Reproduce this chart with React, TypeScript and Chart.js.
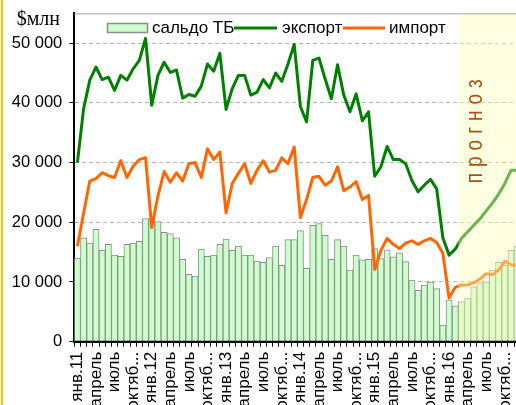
import React, { useEffect, useRef } from 'react';
import { Chart, registerables } from 'chart.js';

Chart.register(...registerables);

const years = ['2011', '2012', '2013', '2014', '2015', '2016'];
const months = ['01', '02', '03', '04', '05', '06', '07', '08', '09', '10', '11', '12'];
const categories = years.flatMap((y) => months.map((m) => `${y}-${m}`));

const tickLabels = [
  'янв.11', 'апрель', 'июль', 'октяб...',
  'янв.12', 'апрель', 'июль', 'октяб...',
  'янв.13', 'апрель', 'июль', 'октяб...',
  'янв.14', 'апрель', 'июль', 'октяб...',
  'янв.15', 'апрель', 'июль', 'октяб...',
  'янв.16', 'апрель', 'июль', 'октяб...',
];

const yTickValues = [0, 10000, 20000, 30000, 40000, 50000];

const balance = [
  14000, 17400, 16500, 18800, 15300, 16300, 14500, 14300, 16300, 16500,
  16800, 20600, 20500, 20100, 18300, 18100, 17400, 13800, 11300, 11000,
  15500, 14300, 14500, 16300, 17200, 15300, 16000, 14500, 14500, 13500,
  13300, 14100, 16000, 12800, 17100, 17100, 18600, 12300, 19500, 19800,
  17800, 13800, 17100, 16000, 12000, 14500, 13700, 13800, 15600, 13900,
  15400, 14200, 14900, 13400, 10300, 8600, 9500, 10000, 8900, 2800,
  7000, 6000, 6700, 7300, 9200, 9900, 10000, 12000, 13300, 12800,
  15300, 16000,
];

const exportValues = [
  30000, 39000, 43800, 46000, 43900, 44300, 42100, 44600, 43800, 45700,
  47100, 50800, 39600, 44600, 46800, 45100, 45500, 40800, 41400, 41100,
  42800, 46500, 45300, 48300, 38900, 42400, 44600, 44600, 41300, 41800,
  43900, 42500, 45000, 43600, 46500, 49800, 39400, 36800, 47100, 47500,
  44000, 40700, 46400, 41300, 38500, 41500, 37000, 38500, 27700, 29300,
  32700, 30500, 30500, 29800, 27000, 25100, 26200, 27200, 25600, 17400,
  14500, 15500, 17300, 18400, 19500, 20600, 21900, 23200, 24700, 26500,
  28700, 28700,
];

const importValues = [
  16000, 21500, 26900, 27300, 28300, 27800, 27500, 30300, 27500, 29400,
  30500, 30800, 19100, 24400, 28500, 26700, 28300, 26900, 29800, 30000,
  27500, 32300, 30500, 31800, 21600, 26500, 28200, 29800, 26500, 28700,
  30300, 28400, 28700, 30800, 29800, 32600, 20800, 23800, 27500, 27700,
  26200, 26900, 29300, 25300, 25900, 26800, 23800, 24500, 12100, 15300,
  17300, 16300, 15600, 16500, 16900, 16300, 16900, 17300, 16600, 14800,
  7300, 9100, 9500, 9500, 9900, 10500, 11400, 11200, 12000, 13500,
  12900, 12800,
];

const forecastStartIndex = 62;
const yMin = 0;
const yMax = 55000;

const seriesNames = ['сальдо ТБ', 'экспорт', 'импорт'];
const unitLabel = '$млн';
const forecastLabel = 'прогноз';

const SANS = '"Liberation Sans", Arial, sans-serif';
const SERIF = '"Liberation Serif", "Times New Roman", serif';

const fmt = (v: number) => String(v).replace(/\B(?=(\d{3})+(?!\d))/g, ' ');

export default function App() {
  const ref = useRef<HTMLCanvasElement>(null);

  useEffect(() => {
    const canvas = ref.current;
    if (!canvas) return;

    const decor = {
      id: 'decor',
      beforeDraw(chart: any) {
        const ctx = chart.ctx;
        ctx.save();
        ctx.fillStyle = '#ffffff';
        ctx.fillRect(0, 0, chart.width, chart.height);
        ctx.restore();
      },
      afterDatasetsDraw(chart: any) {
        const { ctx, chartArea } = chart;
        const xs = chart.scales.x;
        const half = (xs.getPixelForValue(1) - xs.getPixelForValue(0)) / 2;
        const x0 = xs.getPixelForValue(forecastStartIndex) - half;
        ctx.save();
        ctx.fillStyle = 'rgba(255,255,185,0.42)';
        ctx.fillRect(x0, chartArea.top, chart.width - x0, chartArea.bottom - chartArea.top);
        // axis line on top
        ctx.strokeStyle = '#000';
        ctx.lineWidth = 2;
        ctx.beginPath();
        ctx.moveTo(chartArea.left - 1, chartArea.bottom);
        ctx.lineTo(chart.width, chartArea.bottom);
        ctx.stroke();
        // forecast label
        ctx.translate(x0 + 17, chartArea.top + 115);
        ctx.rotate(-Math.PI / 2);
        ctx.scale(1, 1.3);
        ctx.fillStyle = '#a5541a';
        ctx.font = `19px ${SANS}`;
        (ctx as any).letterSpacing = '6px';
        ctx.textAlign = 'center';
        ctx.textBaseline = 'middle';
        ctx.fillText(forecastLabel, 0, 0);
        ctx.restore();
      },
      afterDraw(chart: any) {
        const { ctx, chartArea } = chart;
        ctx.save();
        // top border of plot
        ctx.strokeStyle = '#a0a0a0';
        ctx.lineWidth = 1;
        ctx.beginPath();
        ctx.moveTo(chartArea.left, chartArea.top + 0.5);
        ctx.lineTo(chart.width, chartArea.top + 0.5);
        ctx.stroke();
        // legend
        const ly = 28;
        ctx.fillStyle = '#ccffcc';
        ctx.fillRect(107.5, 23.5, 40, 9);
        ctx.strokeStyle = '#8c8c8c';
        ctx.lineWidth = 1.5;
        ctx.strokeRect(107.5, 23.5, 40, 9);
        ctx.font = `17px ${SANS}`;
        ctx.fillStyle = '#000';
        ctx.textBaseline = 'middle';
        ctx.textAlign = 'left';
        ctx.fillText(seriesNames[0], 152, ly);
        ctx.lineWidth = 3;
        ctx.strokeStyle = '#008000';
        ctx.beginPath();
        ctx.moveTo(234, ly);
        ctx.lineTo(277, ly);
        ctx.stroke();
        ctx.fillText(seriesNames[1], 282, ly);
        ctx.strokeStyle = '#ff6600';
        ctx.beginPath();
        ctx.moveTo(343, ly);
        ctx.lineTo(385, ly);
        ctx.stroke();
        ctx.fillText(seriesNames[2], 389, ly);
        // unit label
        ctx.font = `20px ${SERIF}`;
        ctx.textAlign = 'right';
        ctx.textBaseline = 'alphabetic';
        ctx.fillText(unitLabel, 60, 25);
        // yellow left border
        ctx.fillStyle = '#f5c400';
        ctx.fillRect(1, 0, 2, chart.height);
        ctx.restore();
      },
    };

    const chart = new Chart(canvas, {
      type: 'bar',
      data: {
        labels: categories,
        datasets: [
          {
            type: 'line',
            label: seriesNames[1],
            data: exportValues,
            borderColor: '#008000',
            backgroundColor: '#008000',
            borderWidth: 3,
            pointRadius: 0,
            tension: 0,
            borderJoinStyle: 'round',
          } as any,
          {
            type: 'line',
            label: seriesNames[2],
            data: importValues,
            borderColor: '#ff6600',
            backgroundColor: '#ff6600',
            borderWidth: 3,
            pointRadius: 0,
            tension: 0,
            borderJoinStyle: 'round',
          } as any,
          {
            type: 'bar',
            label: seriesNames[0],
            data: balance,
            backgroundColor: '#ccffcc',
            borderColor: '#8c8c8c',
            borderWidth: 1,
            barPercentage: 1,
            categoryPercentage: 1,
          } as any,
        ],
      },
      options: {
        responsive: false,
        maintainAspectRatio: false,
        animation: false,
        layout: { padding: { top: 13.3, right: 1.7, left: 0, bottom: 0 } },
        plugins: { legend: { display: false }, tooltip: { enabled: false } },
        scales: {
          x: {
            offset: true,
            grid: { display: true, drawOnChartArea: false, drawTicks: true, tickLength: 5, color: '#000', offset: true },
            border: { display: true, color: '#000', width: 2 },
            ticks: {
              autoSkip: false,
              maxRotation: 90,
              minRotation: 90,
              padding: 5,
              color: '#000',
              font: { family: SANS, size: 17 },
              callback: (_v: any, i: number) => (i % 3 === 0 ? tickLabels[i / 3] : ''),
            },
            afterFit: (s: any) => {
              s.height = 63.3;
              s.paddingLeft = 0;
              s.paddingRight = 0;
            },
          },
          y: {
            type: 'linear',
            min: yMin,
            max: yMax,
            ticks: {
              autoSkip: false,
              padding: 7,
              color: '#000',
              font: { family: SANS, size: 16.5 },
              callback: (v: any) => fmt(Number(v)),
            },
            grid: { display: true, drawOnChartArea: true, color: '#b4b4b4', tickColor: '#000', tickLength: 5, lineWidth: 1 },
            border: { display: true, color: '#000', width: 2, dash: [4, 3] },
            afterBuildTicks: (s: any) => {
              s.ticks = yTickValues.map((v) => ({ value: v }));
            },
            afterFit: (s: any) => {
              s.width = 74.3;
              s.paddingTop = 0;
              s.paddingBottom = 0;
            },
          },
        },
      } as any,
      plugins: [decor],
    });

    return () => chart.destroy();
  }, []);

  return (
    <div style={{ position: 'fixed', left: 0, top: 0, width: 516, height: 405, overflow: 'hidden', background: '#fff' }}>
      <canvas ref={ref} width={522} height={405} style={{ display: 'block', width: 522, height: 405 }} />
    </div>
  );
}
